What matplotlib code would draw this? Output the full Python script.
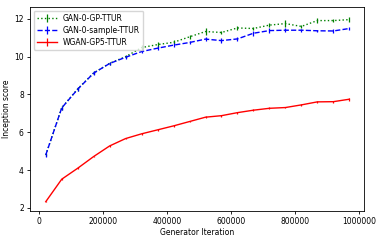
import matplotlib
matplotlib.use('Agg')
import matplotlib.pyplot as plt

iterations = [20000, 70000, 120000, 170000, 220000, 270000, 320000, 370000, 420000, 470000,
              520000, 570000, 620000, 670000, 720000, 770000, 820000, 870000, 920000, 970000]

gp_score = [4.80, 7.30, 8.30, 9.14, 9.65, 10.00, 10.48, 10.64, 10.76, 11.05,
            11.33, 11.28, 11.52, 11.49, 11.67, 11.75, 11.60, 11.91, 11.91, 11.96]
gp_err = [0.05, 0.10, 0.10, 0.08, 0.08, 0.08, 0.15, 0.12, 0.10, 0.12,
          0.18, 0.10, 0.12, 0.10, 0.12, 0.18, 0.10, 0.12, 0.10, 0.12]

sample_score = [4.80, 7.29, 8.28, 9.13, 9.64, 9.97, 10.27, 10.45, 10.61, 10.75,
                10.93, 10.85, 10.94, 11.24, 11.38, 11.40, 11.40, 11.37, 11.36, 11.49]
sample_err = [0.08, 0.12, 0.10, 0.10, 0.10, 0.08, 0.10, 0.10, 0.10, 0.10,
              0.10, 0.12, 0.10, 0.12, 0.12, 0.12, 0.08, 0.06, 0.10, 0.10]

wgan_score = [2.33, 3.52, 4.10, 4.72, 5.28, 5.67, 5.92, 6.13, 6.34, 6.57,
              6.80, 6.88, 7.04, 7.17, 7.27, 7.31, 7.45, 7.61, 7.62, 7.75]
wgan_err = [0.04, 0.04, 0.04, 0.04, 0.04, 0.04, 0.05, 0.05, 0.05, 0.05,
            0.05, 0.05, 0.05, 0.05, 0.05, 0.05, 0.05, 0.06, 0.06, 0.08]

fig = plt.figure(figsize=(3.81, 2.40), dpi=100)
ax = fig.add_axes([0.079, 0.121, 0.876, 0.85])

ax.errorbar(iterations, gp_score, yerr=gp_err, color='g', linestyle=':', lw=1.0,
            elinewidth=0.9, capsize=0, label='GAN-0-GP-TTUR')
ax.errorbar(iterations, sample_score, yerr=sample_err, color='b', linestyle='--', lw=1.0,
            elinewidth=0.9, capsize=0, label='GAN-0-sample-TTUR')
ax.errorbar(iterations, wgan_score, yerr=wgan_err, color='r', linestyle='-', lw=1.0,
            elinewidth=0.9, capsize=0, label='WGAN-GP5-TTUR')

ax.set_xlim(-29000, 1015600)
ax.set_ylim(1.84, 12.63)
ax.set_xticks([0, 200000, 400000, 600000, 800000, 1000000])
ax.set_yticks([2, 4, 6, 8, 10, 12])
ax.ticklabel_format(axis='x', style='plain', useOffset=False)
ax.tick_params(labelsize=5.5, length=2.5, width=0.6, pad=2)
for s in ax.spines.values():
    s.set_linewidth(0.6)

ax.set_xlabel('Generator Iteration', fontsize=5.5, labelpad=1)
ax.set_ylabel('Inception score', fontsize=5.5, labelpad=2)

ax.legend(loc='upper left', fontsize=5.5, handlelength=2.6, borderpad=0.4,
          labelspacing=0.4, handletextpad=0.8, framealpha=0.8)

fig.savefig('out.png', dpi=100)
